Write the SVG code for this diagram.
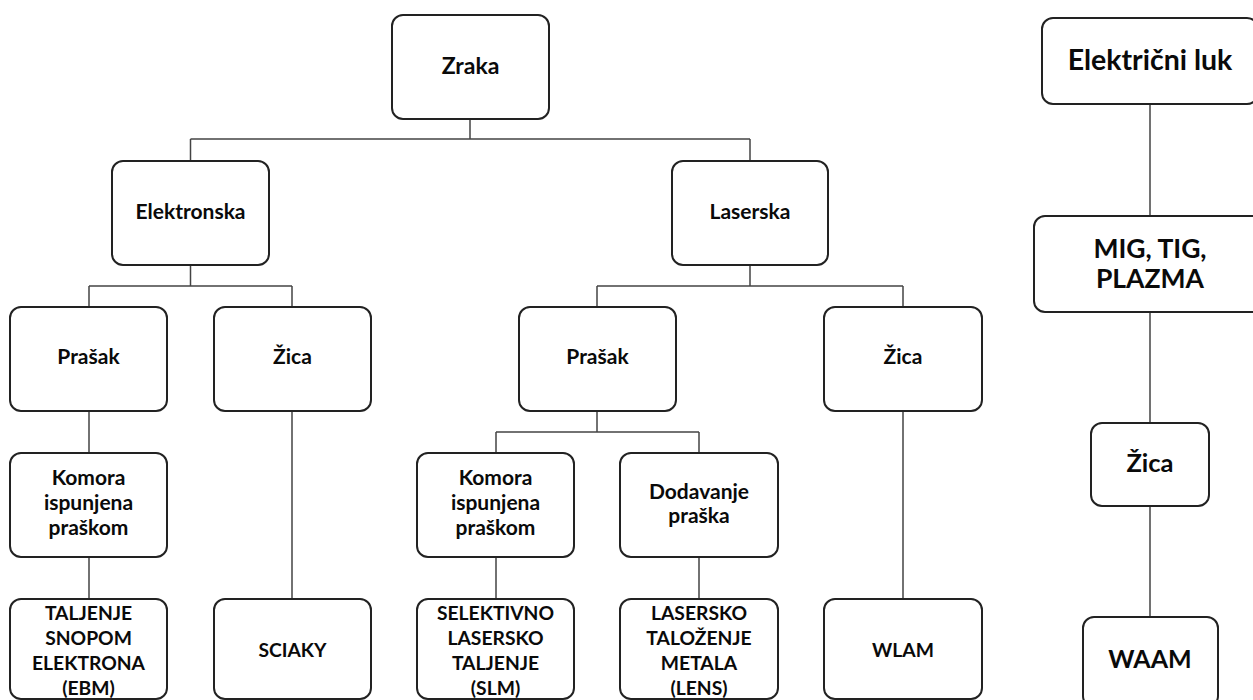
<svg xmlns="http://www.w3.org/2000/svg" width="1253" height="700" viewBox="0 0 1253 700">
<style>
.box{fill:#fff;stroke:#222;stroke-width:2}
.t{font-family:Lato,"Liberation Sans",sans-serif;font-weight:bold;fill:#0a0a0a;text-anchor:middle}
.c{fill:none;stroke:#444;stroke-width:1.5}
.s21{font-size:21px}
.s19{font-size:19.3px}
.s23{font-size:23px}
</style>
<rect width="1253" height="700" fill="#fff"/>
<g id="connectors">
<path class="c" d="M470 119V139M190.5 139H750M190.5 139V161M750 139V161"/>
<path class="c" d="M190.5 265V286M89 286H292M89 286V307M292 286V307"/>
<path class="c" d="M750 265V286M597 286H903M597 286V307M903 286V307"/>
<path class="c" d="M89 411V453M89 557V599M292 411V599"/>
<path class="c" d="M597 411V432M496 432H699M496 432V453M699 432V453M496 557V599M699 557V599M903 411V599"/>
<path class="c" d="M1150 104V216M1150 312V423M1150 506V617"/>
</g>
<g id="zraka"><rect class="box" x="392" y="15" width="157" height="104" rx="11"/><text class="t s23" x="470.5" y="74">Zraka</text></g>
<g id="elektronska"><rect class="box" x="112" y="161" width="157" height="104" rx="11"/><text class="t s21" x="190.5" y="219">Elektronska</text></g>
<g id="laserska"><rect class="box" x="672" y="161" width="156" height="104" rx="11"/><text class="t s21" x="750" y="219">Laserska</text></g>
<g id="e-prasak"><rect class="box" x="10" y="307" width="157" height="104" rx="11"/><text class="t s21" x="88.5" y="364">Prašak</text></g>
<g id="e-zica"><rect class="box" x="214" y="307" width="157" height="104" rx="11"/><text class="t s21" x="292.5" y="364">Žica</text></g>
<g id="l-prasak"><rect class="box" x="519" y="307" width="157" height="104" rx="11"/><text class="t s21" x="597.5" y="364">Prašak</text></g>
<g id="l-zica"><rect class="box" x="824" y="307" width="158" height="104" rx="11"/><text class="t s21" x="903" y="364">Žica</text></g>
<g id="e-komora"><rect class="box" x="10" y="453" width="157" height="104" rx="11"/><text class="t s21" x="88.5" y="485">Komora<tspan x="88.5" y="510">ispunjena</tspan><tspan x="88.5" y="535">praškom</tspan></text></g>
<g id="l-komora"><rect class="box" x="417" y="453" width="157" height="104" rx="11"/><text class="t s21" x="495.5" y="485">Komora<tspan x="495.5" y="510">ispunjena</tspan><tspan x="495.5" y="535">praškom</tspan></text></g>
<g id="dodavanje"><rect class="box" x="620" y="453" width="158" height="104" rx="11"/><text class="t s21" x="699" y="499">Dodavanje<tspan x="699" y="523">praška</tspan></text></g>
<g id="ebm"><rect class="box" x="10" y="599" width="157" height="100" rx="11"/><text class="t s19" x="88.5" y="620">TALJENJE<tspan x="88.5" y="645">SNOPOM</tspan><tspan x="88.5" y="670">ELEKTRONA</tspan><tspan x="88.5" y="695">(EBM)</tspan></text></g>
<g id="sciaky"><rect class="box" x="214" y="599" width="157" height="100" rx="11"/><text class="t s19" x="292.5" y="657">SCIAKY</text></g>
<g id="slm"><rect class="box" x="417" y="599" width="157" height="100" rx="11"/><text class="t s19" x="495.5" y="620">SELEKTIVNO<tspan x="495.5" y="645">LASERSKO</tspan><tspan x="495.5" y="670">TALJENJE</tspan><tspan x="495.5" y="695">(SLM)</tspan></text></g>
<g id="lens"><rect class="box" x="620" y="599" width="158" height="100" rx="11"/><text class="t s19" x="699" y="620">LASERSKO<tspan x="699" y="645">TALOŽENJE</tspan><tspan x="699" y="670">METALA</tspan><tspan x="699" y="695">(LENS)</tspan></text></g>
<g id="wlam"><rect class="box" x="824" y="599" width="158" height="100" rx="11"/><text class="t s19" x="903" y="657">WLAM</text></g>
<g id="elektricni-luk"><rect class="box" x="1042" y="18" width="216" height="86" rx="11"/><text class="t" style="font-size:28.5px" x="1150" y="70">Električni luk</text></g>
<g id="mig"><rect class="box" x="1034" y="216" width="232" height="96" rx="11"/><text class="t" style="font-size:26.5px" x="1150" y="258">MIG, TIG,<tspan x="1150" y="288">PLAZMA</tspan></text></g>
<g id="r-zica"><rect class="box" x="1091" y="423" width="118" height="83" rx="11"/><text class="t" style="font-size:25.5px" x="1150" y="472">Žica</text></g>
<g id="waam"><rect class="box" x="1083" y="617" width="135" height="90" rx="11"/><text class="t" style="font-size:25px" x="1150" y="668">WAAM</text></g>
</svg>
